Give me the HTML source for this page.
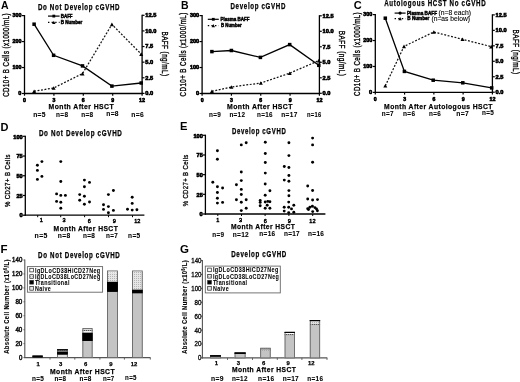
<!DOCTYPE html><html><head><meta charset="utf-8"><style>html,body{margin:0;padding:0;background:#fff;width:520px;height:382px;overflow:hidden}svg{display:block;filter:blur(0.3px)}text{font-family:"Liberation Sans",sans-serif}</style></head><body>
<svg width="520" height="382" viewBox="0 0 520 382">
<defs><pattern id="dots" width="2" height="2" patternUnits="userSpaceOnUse"><rect width="2" height="2" fill="#e6e6e6"/><rect width="1" height="1" fill="#b4b4b4"/></pattern><pattern id="dotsdk" width="2" height="2" patternUnits="userSpaceOnUse"><rect width="2" height="2" fill="#a8a8a8"/><rect width="1" height="1" fill="#555"/></pattern></defs>
<rect width="520" height="382" fill="#fff"/>
<text x="1" y="8.6" font-size="10.5" font-weight="bold" fill="#000">A</text>
<text x="37.9" y="9.7" font-size="8.2" font-weight="bold" fill="#000" stroke="#000" stroke-width="0.25" textLength="82.3" lengthAdjust="spacingAndGlyphs" letter-spacing="0.9">Do Not Develop cGVHD</text>
<line x1="24.50" y1="15.00" x2="24.50" y2="94.10" stroke="#000" stroke-width="1.3"/>
<line x1="21.90" y1="93.50" x2="24.50" y2="93.50" stroke="#000" stroke-width="1.2"/>
<text x="21.4" y="95.25" font-size="5.4" font-weight="bold" fill="#000" stroke="#000" stroke-width="0.6" text-anchor="end" textLength="3.1" lengthAdjust="spacingAndGlyphs">0</text>
<line x1="21.90" y1="67.53" x2="24.50" y2="67.53" stroke="#000" stroke-width="1.2"/>
<text x="21.4" y="69.28333333333333" font-size="5.4" font-weight="bold" fill="#000" stroke="#000" stroke-width="0.6" text-anchor="end" textLength="9.0" lengthAdjust="spacingAndGlyphs">100</text>
<line x1="21.90" y1="41.57" x2="24.50" y2="41.57" stroke="#000" stroke-width="1.2"/>
<text x="21.4" y="43.31666666666666" font-size="5.4" font-weight="bold" fill="#000" stroke="#000" stroke-width="0.6" text-anchor="end" textLength="9.0" lengthAdjust="spacingAndGlyphs">200</text>
<line x1="21.90" y1="15.60" x2="24.50" y2="15.60" stroke="#000" stroke-width="1.2"/>
<text x="21.4" y="17.349999999999994" font-size="5.4" font-weight="bold" fill="#000" stroke="#000" stroke-width="0.6" text-anchor="end" textLength="9.0" lengthAdjust="spacingAndGlyphs">300</text>
<line x1="142.10" y1="14.70" x2="142.10" y2="94.00" stroke="#000" stroke-width="1.3"/>
<line x1="142.10" y1="93.40" x2="144.50" y2="93.40" stroke="#000" stroke-width="1.2"/>
<text x="145.29999999999998" y="95.25" font-size="5.4" font-weight="bold" fill="#000" stroke="#000" stroke-width="0.6" textLength="7.9" lengthAdjust="spacingAndGlyphs">0.0</text>
<line x1="142.10" y1="77.78" x2="144.50" y2="77.78" stroke="#000" stroke-width="1.2"/>
<text x="145.29999999999998" y="79.63" font-size="5.4" font-weight="bold" fill="#000" stroke="#000" stroke-width="0.6" textLength="7.9" lengthAdjust="spacingAndGlyphs">2.5</text>
<line x1="142.10" y1="62.16" x2="144.50" y2="62.16" stroke="#000" stroke-width="1.2"/>
<text x="145.29999999999998" y="64.00999999999999" font-size="5.4" font-weight="bold" fill="#000" stroke="#000" stroke-width="0.6" textLength="7.9" lengthAdjust="spacingAndGlyphs">5.0</text>
<line x1="142.10" y1="46.54" x2="144.50" y2="46.54" stroke="#000" stroke-width="1.2"/>
<text x="145.29999999999998" y="48.39" font-size="5.4" font-weight="bold" fill="#000" stroke="#000" stroke-width="0.6" textLength="7.9" lengthAdjust="spacingAndGlyphs">7.5</text>
<line x1="142.10" y1="30.92" x2="144.50" y2="30.92" stroke="#000" stroke-width="1.2"/>
<text x="145.29999999999998" y="32.769999999999996" font-size="5.4" font-weight="bold" fill="#000" stroke="#000" stroke-width="0.6" textLength="11.0" lengthAdjust="spacingAndGlyphs">10.0</text>
<line x1="142.10" y1="15.30" x2="144.50" y2="15.30" stroke="#000" stroke-width="1.2"/>
<text x="145.29999999999998" y="17.15" font-size="5.4" font-weight="bold" fill="#000" stroke="#000" stroke-width="0.6" textLength="11.0" lengthAdjust="spacingAndGlyphs">12.5</text>
<line x1="23.90" y1="93.50" x2="142.70" y2="93.50" stroke="#000" stroke-width="1.3"/>
<line x1="24.50" y1="93.50" x2="24.50" y2="95.70" stroke="#000" stroke-width="1.2"/>
<text x="24.5" y="102.0" font-size="5.3" font-weight="bold" fill="#000" stroke="#000" stroke-width="0.6" text-anchor="middle" textLength="2.9" lengthAdjust="spacingAndGlyphs">0</text>
<line x1="53.90" y1="93.50" x2="53.90" y2="95.70" stroke="#000" stroke-width="1.2"/>
<text x="53.9" y="102.0" font-size="5.3" font-weight="bold" fill="#000" stroke="#000" stroke-width="0.6" text-anchor="middle" textLength="2.9" lengthAdjust="spacingAndGlyphs">3</text>
<line x1="83.30" y1="93.50" x2="83.30" y2="95.70" stroke="#000" stroke-width="1.2"/>
<text x="83.3" y="102.0" font-size="5.3" font-weight="bold" fill="#000" stroke="#000" stroke-width="0.6" text-anchor="middle" textLength="2.9" lengthAdjust="spacingAndGlyphs">6</text>
<line x1="112.70" y1="93.50" x2="112.70" y2="95.70" stroke="#000" stroke-width="1.2"/>
<text x="112.69999999999999" y="102.0" font-size="5.3" font-weight="bold" fill="#000" stroke="#000" stroke-width="0.6" text-anchor="middle" textLength="2.9" lengthAdjust="spacingAndGlyphs">9</text>
<line x1="142.10" y1="93.50" x2="142.10" y2="95.70" stroke="#000" stroke-width="1.2"/>
<text x="142.1" y="102.0" font-size="5.3" font-weight="bold" fill="#000" stroke="#000" stroke-width="0.6" text-anchor="middle" textLength="6.0" lengthAdjust="spacingAndGlyphs">12</text>
<text transform="translate(9.2,54.9) rotate(-90)" font-size="8.8" font-weight="normal" fill="#000" stroke="#000" stroke-width="0.35" text-anchor="middle" textLength="83.80000000000001" lengthAdjust="spacingAndGlyphs" letter-spacing="0.6">CD10+ B Cells (x1000/mL)</text>
<text transform="translate(161.7,54.0) rotate(90)" font-size="8.6" font-weight="normal" fill="#000" stroke="#000" stroke-width="0.35" text-anchor="middle" textLength="45.0" lengthAdjust="spacingAndGlyphs" letter-spacing="0.6">BAFF (ng/mL)</text>
<text x="48.6" y="108.8" font-size="7.9" font-weight="bold" fill="#000" stroke="#000" stroke-width="0.25" textLength="65.4" lengthAdjust="spacingAndGlyphs" letter-spacing="0.5">Month After HSCT</text>
<text x="33.2" y="116.5" font-size="8.0" font-weight="bold" fill="#000" stroke="#000" stroke-width="0.1" textLength="12.700000000000001" lengthAdjust="spacingAndGlyphs" letter-spacing="0.4">n=5</text>
<text x="56.1" y="116.5" font-size="8.0" font-weight="bold" fill="#000" stroke="#000" stroke-width="0.1" textLength="12.200000000000001" lengthAdjust="spacingAndGlyphs" letter-spacing="0.4">n=8</text>
<text x="81.3" y="116.5" font-size="8.0" font-weight="bold" fill="#000" stroke="#000" stroke-width="0.1" textLength="12.200000000000001" lengthAdjust="spacingAndGlyphs" letter-spacing="0.4">n=8</text>
<text x="106.3" y="115.5" font-size="8.0" font-weight="bold" fill="#000" stroke="#000" stroke-width="0.1" textLength="12.600000000000001" lengthAdjust="spacingAndGlyphs" letter-spacing="0.4">n=8</text>
<text x="131.3" y="116.5" font-size="8.0" font-weight="bold" fill="#000" stroke="#000" stroke-width="0.1" textLength="12.700000000000001" lengthAdjust="spacingAndGlyphs" letter-spacing="0.4">n=6</text>
<line x1="48.00" y1="16.10" x2="59.60" y2="16.10" stroke="#000" stroke-width="1.2"/>
<rect x="52.40" y="14.70" width="2.8" height="2.8" fill="#000"/>
<line x1="48.00" y1="22.40" x2="59.60" y2="22.40" stroke="#000" stroke-width="1.2" stroke-dasharray="1.4,2.2"/>
<polygon points="52.10,23.93 55.50,23.93 53.80,20.87" fill="#000"/>
<text x="60.7" y="17.8" font-size="4.8" font-weight="bold" fill="#000" stroke="#000" stroke-width="0.45" textLength="11.9" lengthAdjust="spacingAndGlyphs">BAFF</text>
<text x="60.7" y="24.1" font-size="4.8" font-weight="bold" fill="#000" stroke="#000" stroke-width="0.45" textLength="21.6" lengthAdjust="spacingAndGlyphs">B Number</text>
<polyline points="34.1,24.2 53.6,55.3 82.5,65.9 111.9,86.1 141.2,83.0" fill="none" stroke="#000" stroke-width="1.3"/>
<rect x="32.35" y="22.45" width="3.5" height="3.5" fill="#000"/>
<rect x="51.85" y="53.55" width="3.5" height="3.5" fill="#000"/>
<rect x="80.75" y="64.15" width="3.5" height="3.5" fill="#000"/>
<rect x="110.15" y="84.35" width="3.5" height="3.5" fill="#000"/>
<rect x="139.45" y="81.25" width="3.5" height="3.5" fill="#000"/>
<polyline points="34.1,91.3 53.6,88.0 82.5,73.6 111.9,24.4 141.2,54.1" fill="none" stroke="#111" stroke-width="1.25" stroke-dasharray="1.9,1.6"/>
<polygon points="32.10,93.10 36.10,93.10 34.10,89.50" fill="#000"/>
<polygon points="51.60,89.80 55.60,89.80 53.60,86.20" fill="#000"/>
<polygon points="80.50,75.40 84.50,75.40 82.50,71.80" fill="#000"/>
<polygon points="109.90,26.20 113.90,26.20 111.90,22.60" fill="#000"/>
<polygon points="139.20,55.90 143.20,55.90 141.20,52.30" fill="#000"/>
<text x="180.9" y="8.6" font-size="10.5" font-weight="bold" fill="#000">B</text>
<text x="230.5" y="8.8" font-size="8.2" font-weight="bold" fill="#000" stroke="#000" stroke-width="0.25" textLength="55.6" lengthAdjust="spacingAndGlyphs" letter-spacing="0.9">Develop cGVHD</text>
<line x1="202.10" y1="15.00" x2="202.10" y2="94.10" stroke="#000" stroke-width="1.3"/>
<line x1="199.50" y1="93.50" x2="202.10" y2="93.50" stroke="#000" stroke-width="1.2"/>
<text x="199.0" y="95.25" font-size="5.4" font-weight="bold" fill="#000" stroke="#000" stroke-width="0.6" text-anchor="end" textLength="3.1" lengthAdjust="spacingAndGlyphs">0</text>
<line x1="199.50" y1="67.53" x2="202.10" y2="67.53" stroke="#000" stroke-width="1.2"/>
<text x="199.0" y="69.28333333333333" font-size="5.4" font-weight="bold" fill="#000" stroke="#000" stroke-width="0.6" text-anchor="end" textLength="9.0" lengthAdjust="spacingAndGlyphs">100</text>
<line x1="199.50" y1="41.57" x2="202.10" y2="41.57" stroke="#000" stroke-width="1.2"/>
<text x="199.0" y="43.31666666666666" font-size="5.4" font-weight="bold" fill="#000" stroke="#000" stroke-width="0.6" text-anchor="end" textLength="9.0" lengthAdjust="spacingAndGlyphs">200</text>
<line x1="199.50" y1="15.60" x2="202.10" y2="15.60" stroke="#000" stroke-width="1.2"/>
<text x="199.0" y="17.349999999999994" font-size="5.4" font-weight="bold" fill="#000" stroke="#000" stroke-width="0.6" text-anchor="end" textLength="9.0" lengthAdjust="spacingAndGlyphs">300</text>
<line x1="319.40" y1="15.20" x2="319.40" y2="93.90" stroke="#000" stroke-width="1.3"/>
<line x1="319.40" y1="93.30" x2="321.80" y2="93.30" stroke="#000" stroke-width="1.2"/>
<text x="322.59999999999997" y="95.14999999999999" font-size="5.4" font-weight="bold" fill="#000" stroke="#000" stroke-width="0.6" textLength="7.9" lengthAdjust="spacingAndGlyphs">0.0</text>
<line x1="319.40" y1="77.80" x2="321.80" y2="77.80" stroke="#000" stroke-width="1.2"/>
<text x="322.59999999999997" y="79.64999999999999" font-size="5.4" font-weight="bold" fill="#000" stroke="#000" stroke-width="0.6" textLength="7.9" lengthAdjust="spacingAndGlyphs">2.5</text>
<line x1="319.40" y1="62.30" x2="321.80" y2="62.30" stroke="#000" stroke-width="1.2"/>
<text x="322.59999999999997" y="64.14999999999999" font-size="5.4" font-weight="bold" fill="#000" stroke="#000" stroke-width="0.6" textLength="7.9" lengthAdjust="spacingAndGlyphs">5.0</text>
<line x1="319.40" y1="46.80" x2="321.80" y2="46.80" stroke="#000" stroke-width="1.2"/>
<text x="322.59999999999997" y="48.65" font-size="5.4" font-weight="bold" fill="#000" stroke="#000" stroke-width="0.6" textLength="7.9" lengthAdjust="spacingAndGlyphs">7.5</text>
<line x1="319.40" y1="31.30" x2="321.80" y2="31.30" stroke="#000" stroke-width="1.2"/>
<text x="322.59999999999997" y="33.15" font-size="5.4" font-weight="bold" fill="#000" stroke="#000" stroke-width="0.6" textLength="11.0" lengthAdjust="spacingAndGlyphs">10.0</text>
<line x1="319.40" y1="15.80" x2="321.80" y2="15.80" stroke="#000" stroke-width="1.2"/>
<text x="322.59999999999997" y="17.65" font-size="5.4" font-weight="bold" fill="#000" stroke="#000" stroke-width="0.6" textLength="11.0" lengthAdjust="spacingAndGlyphs">12.5</text>
<line x1="201.50" y1="93.50" x2="320.00" y2="93.50" stroke="#000" stroke-width="1.3"/>
<line x1="202.10" y1="93.50" x2="202.10" y2="95.70" stroke="#000" stroke-width="1.2"/>
<text x="202.1" y="102.0" font-size="5.3" font-weight="bold" fill="#000" stroke="#000" stroke-width="0.6" text-anchor="middle" textLength="2.9" lengthAdjust="spacingAndGlyphs">0</text>
<line x1="231.42" y1="93.50" x2="231.42" y2="95.70" stroke="#000" stroke-width="1.2"/>
<text x="231.42499999999998" y="102.0" font-size="5.3" font-weight="bold" fill="#000" stroke="#000" stroke-width="0.6" text-anchor="middle" textLength="2.9" lengthAdjust="spacingAndGlyphs">3</text>
<line x1="260.75" y1="93.50" x2="260.75" y2="95.70" stroke="#000" stroke-width="1.2"/>
<text x="260.75" y="102.0" font-size="5.3" font-weight="bold" fill="#000" stroke="#000" stroke-width="0.6" text-anchor="middle" textLength="2.9" lengthAdjust="spacingAndGlyphs">6</text>
<line x1="290.07" y1="93.50" x2="290.07" y2="95.70" stroke="#000" stroke-width="1.2"/>
<text x="290.075" y="102.0" font-size="5.3" font-weight="bold" fill="#000" stroke="#000" stroke-width="0.6" text-anchor="middle" textLength="2.9" lengthAdjust="spacingAndGlyphs">9</text>
<line x1="319.40" y1="93.50" x2="319.40" y2="95.70" stroke="#000" stroke-width="1.2"/>
<text x="319.4" y="102.0" font-size="5.3" font-weight="bold" fill="#000" stroke="#000" stroke-width="0.6" text-anchor="middle" textLength="6.0" lengthAdjust="spacingAndGlyphs">12</text>
<text transform="translate(186.0,54.35) rotate(-90)" font-size="8.8" font-weight="normal" fill="#000" stroke="#000" stroke-width="0.35" text-anchor="middle" textLength="84.10000000000001" lengthAdjust="spacingAndGlyphs" letter-spacing="0.6">CD10+ B Cells (x1000/mL)</text>
<text transform="translate(339.2,53.6) rotate(90)" font-size="8.6" font-weight="normal" fill="#000" stroke="#000" stroke-width="0.35" text-anchor="middle" textLength="45.6" lengthAdjust="spacingAndGlyphs" letter-spacing="0.6">BAFF (ng/mL)</text>
<text x="227.1" y="108.7" font-size="7.9" font-weight="bold" fill="#000" stroke="#000" stroke-width="0.25" textLength="65.80000000000001" lengthAdjust="spacingAndGlyphs" letter-spacing="0.5">Month After HSCT</text>
<text x="209.0" y="117.1" font-size="8.0" font-weight="bold" fill="#000" stroke="#000" stroke-width="0.1" textLength="12.100000000000001" lengthAdjust="spacingAndGlyphs" letter-spacing="0.4">n=9</text>
<text x="229.4" y="117.1" font-size="8.0" font-weight="bold" fill="#000" stroke="#000" stroke-width="0.1" textLength="15.9" lengthAdjust="spacingAndGlyphs" letter-spacing="0.4">n=12</text>
<text x="257.0" y="117.1" font-size="8.0" font-weight="bold" fill="#000" stroke="#000" stroke-width="0.1" textLength="15.8" lengthAdjust="spacingAndGlyphs" letter-spacing="0.4">n=16</text>
<text x="281.3" y="117.1" font-size="8.0" font-weight="bold" fill="#000" stroke="#000" stroke-width="0.1" textLength="16.3" lengthAdjust="spacingAndGlyphs" letter-spacing="0.4">n=17</text>
<text x="307.0" y="117.1" font-size="8.0" font-weight="bold" fill="#000" stroke="#000" stroke-width="0.1" textLength="14.600000000000001" lengthAdjust="spacingAndGlyphs" letter-spacing="0.4">n=16</text>
<line x1="207.80" y1="19.30" x2="218.80" y2="19.30" stroke="#000" stroke-width="1.2"/>
<rect x="211.90" y="17.90" width="2.8" height="2.8" fill="#000"/>
<line x1="207.80" y1="25.60" x2="218.80" y2="25.60" stroke="#000" stroke-width="1.2" stroke-dasharray="1.4,2.2"/>
<polygon points="211.60,27.13 215.00,27.13 213.30,24.07" fill="#000"/>
<text x="220.5" y="21.0" font-size="4.8" font-weight="bold" fill="#000" stroke="#000" stroke-width="0.45" textLength="29.1" lengthAdjust="spacingAndGlyphs">Plasma BAFF</text>
<text x="221.0" y="27.3" font-size="4.8" font-weight="bold" fill="#000" stroke="#000" stroke-width="0.45" textLength="20.6" lengthAdjust="spacingAndGlyphs">B Number</text>
<polyline points="211.9,51.6 231.4,50.5 260.4,57.4 289.7,44.6 318.8,65.3" fill="none" stroke="#000" stroke-width="1.3"/>
<rect x="210.15" y="49.85" width="3.5" height="3.5" fill="#000"/>
<rect x="229.65" y="48.75" width="3.5" height="3.5" fill="#000"/>
<rect x="258.65" y="55.65" width="3.5" height="3.5" fill="#000"/>
<rect x="287.95" y="42.85" width="3.5" height="3.5" fill="#000"/>
<rect x="317.05" y="63.55" width="3.5" height="3.5" fill="#000"/>
<polyline points="211.9,91.3 231.4,87.0 260.8,83.0 289.7,73.2 318.8,60.6" fill="none" stroke="#111" stroke-width="1.25" stroke-dasharray="1.9,1.6"/>
<polygon points="209.90,93.10 213.90,93.10 211.90,89.50" fill="#000"/>
<polygon points="229.40,88.80 233.40,88.80 231.40,85.20" fill="#000"/>
<polygon points="258.80,84.80 262.80,84.80 260.80,81.20" fill="#000"/>
<polygon points="287.70,75.00 291.70,75.00 289.70,71.40" fill="#000"/>
<polygon points="316.80,62.40 320.80,62.40 318.80,58.80" fill="#000"/>
<text x="353.8" y="9.0" font-size="11.0" font-weight="bold" fill="#000">C</text>
<text x="384.2" y="6.3" font-size="8.2" font-weight="bold" fill="#000" stroke="#000" stroke-width="0.25" textLength="102.10000000000001" lengthAdjust="spacingAndGlyphs" letter-spacing="0.9">Autologous HCST No cGVHD</text>
<line x1="375.30" y1="14.00" x2="375.30" y2="93.00" stroke="#000" stroke-width="1.3"/>
<line x1="372.70" y1="92.40" x2="375.30" y2="92.40" stroke="#000" stroke-width="1.2"/>
<text x="372.2" y="94.15" font-size="5.4" font-weight="bold" fill="#000" stroke="#000" stroke-width="0.6" text-anchor="end" textLength="3.1" lengthAdjust="spacingAndGlyphs">0</text>
<line x1="372.70" y1="66.47" x2="375.30" y2="66.47" stroke="#000" stroke-width="1.2"/>
<text x="372.2" y="68.21666666666667" font-size="5.4" font-weight="bold" fill="#000" stroke="#000" stroke-width="0.6" text-anchor="end" textLength="9.0" lengthAdjust="spacingAndGlyphs">100</text>
<line x1="372.70" y1="40.53" x2="375.30" y2="40.53" stroke="#000" stroke-width="1.2"/>
<text x="372.2" y="42.28333333333333" font-size="5.4" font-weight="bold" fill="#000" stroke="#000" stroke-width="0.6" text-anchor="end" textLength="9.0" lengthAdjust="spacingAndGlyphs">200</text>
<line x1="372.70" y1="14.60" x2="375.30" y2="14.60" stroke="#000" stroke-width="1.2"/>
<text x="372.2" y="16.349999999999994" font-size="5.4" font-weight="bold" fill="#000" stroke="#000" stroke-width="0.6" text-anchor="end" textLength="9.0" lengthAdjust="spacingAndGlyphs">300</text>
<line x1="492.40" y1="14.30" x2="492.40" y2="92.80" stroke="#000" stroke-width="1.3"/>
<line x1="492.40" y1="92.20" x2="494.80" y2="92.20" stroke="#000" stroke-width="1.2"/>
<text x="495.59999999999997" y="94.05" font-size="5.4" font-weight="bold" fill="#000" stroke="#000" stroke-width="0.6" textLength="7.9" lengthAdjust="spacingAndGlyphs">0.0</text>
<line x1="492.40" y1="76.74" x2="494.80" y2="76.74" stroke="#000" stroke-width="1.2"/>
<text x="495.59999999999997" y="78.59" font-size="5.4" font-weight="bold" fill="#000" stroke="#000" stroke-width="0.6" textLength="7.9" lengthAdjust="spacingAndGlyphs">2.5</text>
<line x1="492.40" y1="61.28" x2="494.80" y2="61.28" stroke="#000" stroke-width="1.2"/>
<text x="495.59999999999997" y="63.13" font-size="5.4" font-weight="bold" fill="#000" stroke="#000" stroke-width="0.6" textLength="7.9" lengthAdjust="spacingAndGlyphs">5.0</text>
<line x1="492.40" y1="45.82" x2="494.80" y2="45.82" stroke="#000" stroke-width="1.2"/>
<text x="495.59999999999997" y="47.67000000000001" font-size="5.4" font-weight="bold" fill="#000" stroke="#000" stroke-width="0.6" textLength="7.9" lengthAdjust="spacingAndGlyphs">7.5</text>
<line x1="492.40" y1="30.36" x2="494.80" y2="30.36" stroke="#000" stroke-width="1.2"/>
<text x="495.59999999999997" y="32.21" font-size="5.4" font-weight="bold" fill="#000" stroke="#000" stroke-width="0.6" textLength="11.0" lengthAdjust="spacingAndGlyphs">10.0</text>
<line x1="492.40" y1="14.90" x2="494.80" y2="14.90" stroke="#000" stroke-width="1.2"/>
<text x="495.59999999999997" y="16.750000000000007" font-size="5.4" font-weight="bold" fill="#000" stroke="#000" stroke-width="0.6" textLength="11.0" lengthAdjust="spacingAndGlyphs">12.5</text>
<line x1="374.70" y1="92.40" x2="493.00" y2="92.40" stroke="#000" stroke-width="1.3"/>
<line x1="375.30" y1="92.40" x2="375.30" y2="94.60" stroke="#000" stroke-width="1.2"/>
<text x="375.3" y="101.1" font-size="5.3" font-weight="bold" fill="#000" stroke="#000" stroke-width="0.6" text-anchor="middle" textLength="2.9" lengthAdjust="spacingAndGlyphs">0</text>
<line x1="404.57" y1="92.40" x2="404.57" y2="94.60" stroke="#000" stroke-width="1.2"/>
<text x="404.575" y="101.1" font-size="5.3" font-weight="bold" fill="#000" stroke="#000" stroke-width="0.6" text-anchor="middle" textLength="2.9" lengthAdjust="spacingAndGlyphs">3</text>
<line x1="433.85" y1="92.40" x2="433.85" y2="94.60" stroke="#000" stroke-width="1.2"/>
<text x="433.85" y="101.1" font-size="5.3" font-weight="bold" fill="#000" stroke="#000" stroke-width="0.6" text-anchor="middle" textLength="2.9" lengthAdjust="spacingAndGlyphs">6</text>
<line x1="463.12" y1="92.40" x2="463.12" y2="94.60" stroke="#000" stroke-width="1.2"/>
<text x="463.125" y="101.1" font-size="5.3" font-weight="bold" fill="#000" stroke="#000" stroke-width="0.6" text-anchor="middle" textLength="2.9" lengthAdjust="spacingAndGlyphs">9</text>
<line x1="492.40" y1="92.40" x2="492.40" y2="94.60" stroke="#000" stroke-width="1.2"/>
<text x="492.4" y="101.1" font-size="5.3" font-weight="bold" fill="#000" stroke="#000" stroke-width="0.6" text-anchor="middle" textLength="6.0" lengthAdjust="spacingAndGlyphs">12</text>
<text transform="translate(359.7,53.95) rotate(-90)" font-size="8.8" font-weight="normal" fill="#000" stroke="#000" stroke-width="0.35" text-anchor="middle" textLength="84.10000000000001" lengthAdjust="spacingAndGlyphs" letter-spacing="0.6">CD10+ B Cells (x1000/mL)</text>
<text transform="translate(512.5,52.05) rotate(90)" font-size="8.6" font-weight="normal" fill="#000" stroke="#000" stroke-width="0.35" text-anchor="middle" textLength="44.9" lengthAdjust="spacingAndGlyphs" letter-spacing="0.6">BAFF (ng/mL)</text>
<text x="384.1" y="108.8" font-size="7.9" font-weight="bold" fill="#000" stroke="#000" stroke-width="0.25" textLength="108.80000000000001" lengthAdjust="spacingAndGlyphs" letter-spacing="0.5">Month After Autologous HSCT</text>
<text x="381.8" y="115.89999999999999" font-size="8.0" font-weight="bold" fill="#000" stroke="#000" stroke-width="0.1" textLength="12.100000000000001" lengthAdjust="spacingAndGlyphs" letter-spacing="0.4">n=7</text>
<text x="403.0" y="115.89999999999999" font-size="8.0" font-weight="bold" fill="#000" stroke="#000" stroke-width="0.1" textLength="12.4" lengthAdjust="spacingAndGlyphs" letter-spacing="0.4">n=6</text>
<text x="429.0" y="115.89999999999999" font-size="8.0" font-weight="bold" fill="#000" stroke="#000" stroke-width="0.1" textLength="12.0" lengthAdjust="spacingAndGlyphs" letter-spacing="0.4">n=6</text>
<text x="456.3" y="115.89999999999999" font-size="8.0" font-weight="bold" fill="#000" stroke="#000" stroke-width="0.1" textLength="12.8" lengthAdjust="spacingAndGlyphs" letter-spacing="0.4">n=7</text>
<text x="482.0" y="115.2" font-size="8.0" font-weight="bold" fill="#000" stroke="#000" stroke-width="0.1" textLength="12.100000000000001" lengthAdjust="spacingAndGlyphs" letter-spacing="0.4">n=5</text>
<line x1="394.60" y1="13.10" x2="405.60" y2="13.10" stroke="#000" stroke-width="1.2"/>
<circle cx="400.10" cy="13.10" r="1.6" fill="#000"/>
<line x1="394.60" y1="18.60" x2="405.60" y2="18.60" stroke="#000" stroke-width="1.2" stroke-dasharray="1.4,2.2"/>
<polygon points="398.40,20.13 401.80,20.13 400.10,17.07" fill="#000"/>
<text x="407.0" y="14.7" font-size="4.8" font-weight="bold" fill="#000" stroke="#000" stroke-width="0.45" textLength="30" lengthAdjust="spacingAndGlyphs">Plasma BAFF</text>
<text x="438.4" y="15.1" font-size="6.8" font-weight="normal" fill="#000" stroke="#000" stroke-width="0.1" textLength="32.6" lengthAdjust="spacingAndGlyphs">(n=8 each)</text>
<text x="407.3" y="20.2" font-size="4.8" font-weight="bold" fill="#000" stroke="#000" stroke-width="0.45" textLength="22" lengthAdjust="spacingAndGlyphs">B Number</text>
<text x="431.5" y="20.6" font-size="6.8" font-weight="normal" fill="#000" stroke="#000" stroke-width="0.1" textLength="38.5" lengthAdjust="spacingAndGlyphs">(n=as below)</text>
<polyline points="385.3,18.2 404.4,71.4 433.2,80.2 462.8,82.8 491.7,87.9" fill="none" stroke="#000" stroke-width="1.3"/>
<rect x="383.55" y="16.45" width="3.5" height="3.5" fill="#000"/>
<rect x="402.65" y="69.65" width="3.5" height="3.5" fill="#000"/>
<rect x="431.45" y="78.45" width="3.5" height="3.5" fill="#000"/>
<rect x="461.05" y="81.05" width="3.5" height="3.5" fill="#000"/>
<rect x="489.95" y="86.15" width="3.5" height="3.5" fill="#000"/>
<polyline points="385.3,85.8 404.0,46.4 433.8,32.0 462.5,39.3 491.2,46.6" fill="none" stroke="#111" stroke-width="1.25" stroke-dasharray="1.9,1.6"/>
<polygon points="383.30,87.60 387.30,87.60 385.30,84.00" fill="#000"/>
<polygon points="402.00,48.20 406.00,48.20 404.00,44.60" fill="#000"/>
<polygon points="431.80,33.80 435.80,33.80 433.80,30.20" fill="#000"/>
<polygon points="460.50,41.10 464.50,41.10 462.50,37.50" fill="#000"/>
<polygon points="489.20,48.40 493.20,48.40 491.20,44.80" fill="#000"/>
<text x="0.6" y="130.6" font-size="11.0" font-weight="bold" fill="#000">D</text>
<text x="38.9" y="136.4" font-size="8.2" font-weight="bold" fill="#000" stroke="#000" stroke-width="0.25" textLength="83.7" lengthAdjust="spacingAndGlyphs" letter-spacing="0.9">Do Not Develop cGVHD</text>
<line x1="25.30" y1="135.70" x2="25.30" y2="215.80" stroke="#000" stroke-width="1.3"/>
<line x1="22.90" y1="215.20" x2="25.30" y2="215.20" stroke="#000" stroke-width="1.2"/>
<text x="22.7" y="217.39999999999998" font-size="5.5" font-weight="bold" fill="#000" stroke="#000" stroke-width="0.6" text-anchor="end" textLength="3.2" lengthAdjust="spacingAndGlyphs">0</text>
<line x1="22.90" y1="195.47" x2="25.30" y2="195.47" stroke="#000" stroke-width="1.2"/>
<text x="22.7" y="197.67499999999998" font-size="5.5" font-weight="bold" fill="#000" stroke="#000" stroke-width="0.6" text-anchor="end" textLength="6.2" lengthAdjust="spacingAndGlyphs">25</text>
<line x1="22.90" y1="175.75" x2="25.30" y2="175.75" stroke="#000" stroke-width="1.2"/>
<text x="22.7" y="177.95" font-size="5.5" font-weight="bold" fill="#000" stroke="#000" stroke-width="0.6" text-anchor="end" textLength="6.2" lengthAdjust="spacingAndGlyphs">50</text>
<line x1="22.90" y1="156.03" x2="25.30" y2="156.03" stroke="#000" stroke-width="1.2"/>
<text x="22.7" y="158.225" font-size="5.5" font-weight="bold" fill="#000" stroke="#000" stroke-width="0.6" text-anchor="end" textLength="6.2" lengthAdjust="spacingAndGlyphs">75</text>
<line x1="22.90" y1="136.30" x2="25.30" y2="136.30" stroke="#000" stroke-width="1.2"/>
<text x="22.7" y="138.5" font-size="5.5" font-weight="bold" fill="#000" stroke="#000" stroke-width="0.6" text-anchor="end" textLength="9.4" lengthAdjust="spacingAndGlyphs">100</text>
<line x1="24.70" y1="215.20" x2="144.40" y2="215.20" stroke="#000" stroke-width="1.3"/>
<line x1="37.70" y1="215.20" x2="37.70" y2="217.20" stroke="#000" stroke-width="1.0"/>
<text x="41.4" y="222.0" font-size="5.6" font-weight="normal" fill="#000" stroke="#000" stroke-width="0.45" text-anchor="middle" textLength="3.1" lengthAdjust="spacingAndGlyphs">1</text>
<line x1="60.70" y1="215.20" x2="60.70" y2="217.20" stroke="#000" stroke-width="1.0"/>
<text x="64.0" y="222.0" font-size="5.6" font-weight="normal" fill="#000" stroke="#000" stroke-width="0.45" text-anchor="middle" textLength="3.1" lengthAdjust="spacingAndGlyphs">3</text>
<line x1="84.60" y1="215.20" x2="84.60" y2="217.20" stroke="#000" stroke-width="1.0"/>
<text x="89.3" y="222.7" font-size="5.6" font-weight="normal" fill="#000" stroke="#000" stroke-width="0.45" text-anchor="middle" textLength="3.1" lengthAdjust="spacingAndGlyphs">6</text>
<line x1="108.50" y1="215.20" x2="108.50" y2="217.20" stroke="#000" stroke-width="1.0"/>
<text x="114.2" y="222.7" font-size="5.6" font-weight="normal" fill="#000" stroke="#000" stroke-width="0.45" text-anchor="middle" textLength="3.1" lengthAdjust="spacingAndGlyphs">9</text>
<line x1="132.50" y1="215.20" x2="132.50" y2="217.20" stroke="#000" stroke-width="1.0"/>
<text x="137.3" y="222.7" font-size="5.6" font-weight="normal" fill="#000" stroke="#000" stroke-width="0.45" text-anchor="middle" textLength="6.2" lengthAdjust="spacingAndGlyphs">12</text>
<text transform="translate(9.5,180.6) rotate(-90)" font-size="7.7" font-weight="normal" fill="#000" stroke="#000" stroke-width="0.3" text-anchor="middle" textLength="52.9" lengthAdjust="spacingAndGlyphs" letter-spacing="0.5">% CD27+ B Cells</text>
<text x="53.6" y="231.2" font-size="7.9" font-weight="bold" fill="#000" stroke="#000" stroke-width="0.25" textLength="64.60000000000001" lengthAdjust="spacingAndGlyphs" letter-spacing="0.5">Month After HSCT</text>
<text x="34.6" y="238.4" font-size="8.0" font-weight="bold" fill="#000" stroke="#000" stroke-width="0.1" textLength="13.100000000000001" lengthAdjust="spacingAndGlyphs" letter-spacing="0.4">n=5</text>
<text x="57.8" y="238.4" font-size="8.0" font-weight="bold" fill="#000" stroke="#000" stroke-width="0.1" textLength="12.700000000000001" lengthAdjust="spacingAndGlyphs" letter-spacing="0.4">n=8</text>
<text x="83.0" y="237.60000000000002" font-size="8.0" font-weight="bold" fill="#000" stroke="#000" stroke-width="0.1" textLength="12.200000000000001" lengthAdjust="spacingAndGlyphs" letter-spacing="0.4">n=8</text>
<text x="106.0" y="237.70000000000002" font-size="8.0" font-weight="bold" fill="#000" stroke="#000" stroke-width="0.1" textLength="12.100000000000001" lengthAdjust="spacingAndGlyphs" letter-spacing="0.4">n=7</text>
<text x="128.1" y="237.70000000000002" font-size="8.0" font-weight="bold" fill="#000" stroke="#000" stroke-width="0.1" textLength="12.4" lengthAdjust="spacingAndGlyphs" letter-spacing="0.4">n=5</text>
<circle cx="41.90" cy="161.60" r="1.45" fill="#000"/>
<circle cx="37.40" cy="165.30" r="1.45" fill="#000"/>
<circle cx="37.40" cy="170.40" r="1.45" fill="#000"/>
<circle cx="41.90" cy="176.40" r="1.45" fill="#000"/>
<circle cx="37.40" cy="179.40" r="1.45" fill="#000"/>
<circle cx="60.80" cy="161.60" r="1.45" fill="#000"/>
<circle cx="60.80" cy="181.50" r="1.45" fill="#000"/>
<circle cx="56.60" cy="193.90" r="1.45" fill="#000"/>
<circle cx="60.80" cy="195.40" r="1.45" fill="#000"/>
<circle cx="65.40" cy="195.40" r="1.45" fill="#000"/>
<circle cx="56.60" cy="201.40" r="1.45" fill="#000"/>
<circle cx="60.80" cy="202.20" r="1.45" fill="#000"/>
<circle cx="60.80" cy="208.20" r="1.45" fill="#000"/>
<circle cx="84.40" cy="180.10" r="1.45" fill="#000"/>
<circle cx="89.50" cy="182.40" r="1.45" fill="#000"/>
<circle cx="84.40" cy="186.80" r="1.45" fill="#000"/>
<circle cx="79.70" cy="194.60" r="1.45" fill="#000"/>
<circle cx="84.40" cy="196.20" r="1.45" fill="#000"/>
<circle cx="79.70" cy="200.30" r="1.45" fill="#000"/>
<circle cx="89.50" cy="202.00" r="1.45" fill="#000"/>
<circle cx="84.40" cy="204.30" r="1.45" fill="#000"/>
<circle cx="113.40" cy="190.50" r="1.45" fill="#000"/>
<circle cx="108.40" cy="194.60" r="1.45" fill="#000"/>
<circle cx="103.50" cy="204.70" r="1.45" fill="#000"/>
<circle cx="108.40" cy="206.60" r="1.45" fill="#000"/>
<circle cx="103.50" cy="209.40" r="1.45" fill="#000"/>
<circle cx="113.40" cy="210.40" r="1.45" fill="#000"/>
<circle cx="108.40" cy="212.80" r="1.45" fill="#000"/>
<circle cx="132.20" cy="197.20" r="1.45" fill="#000"/>
<circle cx="132.20" cy="203.40" r="1.45" fill="#000"/>
<circle cx="127.50" cy="209.30" r="1.45" fill="#000"/>
<circle cx="132.20" cy="210.10" r="1.45" fill="#000"/>
<circle cx="136.90" cy="209.70" r="1.45" fill="#000"/>
<text x="180.0" y="130.4" font-size="11.2" font-weight="bold" fill="#000">E</text>
<text x="232.0" y="133.8" font-size="8.2" font-weight="bold" fill="#000" stroke="#000" stroke-width="0.25" textLength="54.400000000000006" lengthAdjust="spacingAndGlyphs" letter-spacing="0.9">Develop cGVHD</text>
<line x1="205.40" y1="134.70" x2="205.40" y2="214.60" stroke="#000" stroke-width="1.3"/>
<line x1="203.00" y1="214.00" x2="205.40" y2="214.00" stroke="#000" stroke-width="1.2"/>
<text x="202.8" y="216.2" font-size="5.5" font-weight="bold" fill="#000" stroke="#000" stroke-width="0.6" text-anchor="end" textLength="3.2" lengthAdjust="spacingAndGlyphs">0</text>
<line x1="203.00" y1="194.32" x2="205.40" y2="194.32" stroke="#000" stroke-width="1.2"/>
<text x="202.8" y="196.52499999999998" font-size="5.5" font-weight="bold" fill="#000" stroke="#000" stroke-width="0.6" text-anchor="end" textLength="6.2" lengthAdjust="spacingAndGlyphs">25</text>
<line x1="203.00" y1="174.65" x2="205.40" y2="174.65" stroke="#000" stroke-width="1.2"/>
<text x="202.8" y="176.85" font-size="5.5" font-weight="bold" fill="#000" stroke="#000" stroke-width="0.6" text-anchor="end" textLength="6.2" lengthAdjust="spacingAndGlyphs">50</text>
<line x1="203.00" y1="154.98" x2="205.40" y2="154.98" stroke="#000" stroke-width="1.2"/>
<text x="202.8" y="157.175" font-size="5.5" font-weight="bold" fill="#000" stroke="#000" stroke-width="0.6" text-anchor="end" textLength="6.2" lengthAdjust="spacingAndGlyphs">75</text>
<line x1="203.00" y1="135.30" x2="205.40" y2="135.30" stroke="#000" stroke-width="1.2"/>
<text x="202.8" y="137.5" font-size="5.5" font-weight="bold" fill="#000" stroke="#000" stroke-width="0.6" text-anchor="end" textLength="9.4" lengthAdjust="spacingAndGlyphs">100</text>
<line x1="204.80" y1="214.00" x2="325.40" y2="214.00" stroke="#000" stroke-width="1.3"/>
<line x1="217.80" y1="214.00" x2="217.80" y2="216.00" stroke="#000" stroke-width="1.0"/>
<text x="217.7" y="221.7" font-size="5.6" font-weight="normal" fill="#000" stroke="#000" stroke-width="0.45" text-anchor="middle" textLength="3.1" lengthAdjust="spacingAndGlyphs">1</text>
<line x1="241.50" y1="214.00" x2="241.50" y2="216.00" stroke="#000" stroke-width="1.0"/>
<text x="240.6" y="221.7" font-size="5.6" font-weight="normal" fill="#000" stroke="#000" stroke-width="0.45" text-anchor="middle" textLength="3.1" lengthAdjust="spacingAndGlyphs">3</text>
<line x1="265.10" y1="214.00" x2="265.10" y2="216.00" stroke="#000" stroke-width="1.0"/>
<text x="265.4" y="222.6" font-size="5.6" font-weight="normal" fill="#000" stroke="#000" stroke-width="0.45" text-anchor="middle" textLength="3.1" lengthAdjust="spacingAndGlyphs">6</text>
<line x1="288.90" y1="214.00" x2="288.90" y2="216.00" stroke="#000" stroke-width="1.0"/>
<text x="289.3" y="222.6" font-size="5.6" font-weight="normal" fill="#000" stroke="#000" stroke-width="0.45" text-anchor="middle" textLength="3.1" lengthAdjust="spacingAndGlyphs">9</text>
<line x1="312.70" y1="214.00" x2="312.70" y2="216.00" stroke="#000" stroke-width="1.0"/>
<text x="312.4" y="222.6" font-size="5.6" font-weight="normal" fill="#000" stroke="#000" stroke-width="0.45" text-anchor="middle" textLength="6.2" lengthAdjust="spacingAndGlyphs">12</text>
<text transform="translate(188.0,180.3) rotate(-90)" font-size="7.7" font-weight="normal" fill="#000" stroke="#000" stroke-width="0.3" text-anchor="middle" textLength="52.099999999999994" lengthAdjust="spacingAndGlyphs" letter-spacing="0.5">% CD27+ B Cells</text>
<text x="231.0" y="228.9" font-size="7.9" font-weight="bold" fill="#000" stroke="#000" stroke-width="0.25" textLength="64.2" lengthAdjust="spacingAndGlyphs" letter-spacing="0.5">Month After HSCT</text>
<text x="212.2" y="236.9" font-size="8.0" font-weight="bold" fill="#000" stroke="#000" stroke-width="0.1" textLength="12.100000000000001" lengthAdjust="spacingAndGlyphs" letter-spacing="0.4">n=9</text>
<text x="232.7" y="236.9" font-size="8.0" font-weight="bold" fill="#000" stroke="#000" stroke-width="0.1" textLength="16.400000000000002" lengthAdjust="spacingAndGlyphs" letter-spacing="0.4">n=12</text>
<text x="259.3" y="236.20000000000002" font-size="8.0" font-weight="bold" fill="#000" stroke="#000" stroke-width="0.1" textLength="16.2" lengthAdjust="spacingAndGlyphs" letter-spacing="0.4">n=16</text>
<text x="283.9" y="236.20000000000002" font-size="8.0" font-weight="bold" fill="#000" stroke="#000" stroke-width="0.1" textLength="16.1" lengthAdjust="spacingAndGlyphs" letter-spacing="0.4">n=17</text>
<text x="308.1" y="236.20000000000002" font-size="8.0" font-weight="bold" fill="#000" stroke="#000" stroke-width="0.1" textLength="16.2" lengthAdjust="spacingAndGlyphs" letter-spacing="0.4">n=16</text>
<circle cx="217.40" cy="150.80" r="1.45" fill="#000"/>
<circle cx="217.40" cy="159.20" r="1.45" fill="#000"/>
<circle cx="212.80" cy="182.20" r="1.45" fill="#000"/>
<circle cx="217.40" cy="186.70" r="1.45" fill="#000"/>
<circle cx="222.60" cy="188.00" r="1.45" fill="#000"/>
<circle cx="217.40" cy="192.50" r="1.45" fill="#000"/>
<circle cx="217.40" cy="198.20" r="1.45" fill="#000"/>
<circle cx="217.40" cy="203.10" r="1.45" fill="#000"/>
<circle cx="222.60" cy="202.40" r="1.45" fill="#000"/>
<circle cx="241.30" cy="144.90" r="1.45" fill="#000"/>
<circle cx="246.20" cy="142.70" r="1.45" fill="#000"/>
<circle cx="241.30" cy="172.00" r="1.45" fill="#000"/>
<circle cx="241.30" cy="180.60" r="1.45" fill="#000"/>
<circle cx="236.40" cy="184.70" r="1.45" fill="#000"/>
<circle cx="241.30" cy="189.40" r="1.45" fill="#000"/>
<circle cx="241.30" cy="194.50" r="1.45" fill="#000"/>
<circle cx="236.40" cy="199.80" r="1.45" fill="#000"/>
<circle cx="246.20" cy="199.80" r="1.45" fill="#000"/>
<circle cx="241.30" cy="202.30" r="1.45" fill="#000"/>
<circle cx="246.20" cy="208.20" r="1.45" fill="#000"/>
<circle cx="241.30" cy="210.60" r="1.45" fill="#000"/>
<circle cx="265.30" cy="142.20" r="1.45" fill="#000"/>
<circle cx="265.30" cy="153.50" r="1.45" fill="#000"/>
<circle cx="265.30" cy="162.50" r="1.45" fill="#000"/>
<circle cx="265.30" cy="173.10" r="1.45" fill="#000"/>
<circle cx="265.20" cy="184.00" r="1.45" fill="#000"/>
<circle cx="269.90" cy="190.70" r="1.45" fill="#000"/>
<circle cx="265.20" cy="195.20" r="1.45" fill="#000"/>
<circle cx="260.20" cy="200.40" r="1.45" fill="#000"/>
<circle cx="260.20" cy="202.40" r="1.45" fill="#000"/>
<circle cx="265.20" cy="202.00" r="1.45" fill="#000"/>
<circle cx="269.90" cy="201.80" r="1.45" fill="#000"/>
<circle cx="260.20" cy="205.70" r="1.45" fill="#000"/>
<circle cx="267.20" cy="205.30" r="1.45" fill="#000"/>
<circle cx="265.20" cy="208.30" r="1.45" fill="#000"/>
<circle cx="269.90" cy="208.30" r="1.45" fill="#000"/>
<circle cx="267.80" cy="201.40" r="1.45" fill="#000"/>
<circle cx="288.90" cy="142.80" r="1.45" fill="#000"/>
<circle cx="288.90" cy="155.60" r="1.45" fill="#000"/>
<circle cx="284.30" cy="166.50" r="1.45" fill="#000"/>
<circle cx="288.90" cy="167.50" r="1.45" fill="#000"/>
<circle cx="288.90" cy="175.50" r="1.45" fill="#000"/>
<circle cx="284.30" cy="180.10" r="1.45" fill="#000"/>
<circle cx="288.90" cy="181.20" r="1.45" fill="#000"/>
<circle cx="288.90" cy="190.60" r="1.45" fill="#000"/>
<circle cx="288.90" cy="195.80" r="1.45" fill="#000"/>
<circle cx="288.70" cy="202.10" r="1.45" fill="#000"/>
<circle cx="284.20" cy="207.20" r="1.45" fill="#000"/>
<circle cx="293.80" cy="205.20" r="1.45" fill="#000"/>
<circle cx="284.20" cy="211.10" r="1.45" fill="#000"/>
<circle cx="288.70" cy="207.20" r="1.45" fill="#000"/>
<circle cx="293.80" cy="212.20" r="1.45" fill="#000"/>
<circle cx="288.70" cy="212.60" r="1.45" fill="#000"/>
<circle cx="291.50" cy="208.90" r="1.45" fill="#000"/>
<circle cx="312.60" cy="138.10" r="1.45" fill="#000"/>
<circle cx="312.60" cy="144.90" r="1.45" fill="#000"/>
<circle cx="312.60" cy="162.30" r="1.45" fill="#000"/>
<circle cx="307.70" cy="186.00" r="1.45" fill="#000"/>
<circle cx="312.60" cy="190.50" r="1.45" fill="#000"/>
<circle cx="307.70" cy="199.00" r="1.45" fill="#000"/>
<circle cx="312.60" cy="200.00" r="1.45" fill="#000"/>
<circle cx="317.50" cy="199.60" r="1.45" fill="#000"/>
<circle cx="307.70" cy="208.80" r="1.45" fill="#000"/>
<circle cx="309.90" cy="207.30" r="1.45" fill="#000"/>
<circle cx="312.40" cy="206.30" r="1.45" fill="#000"/>
<circle cx="314.90" cy="207.60" r="1.45" fill="#000"/>
<circle cx="317.40" cy="210.80" r="1.45" fill="#000"/>
<circle cx="312.70" cy="211.60" r="1.45" fill="#000"/>
<circle cx="308.50" cy="209.50" r="1.45" fill="#000"/>
<circle cx="316.50" cy="209.00" r="1.45" fill="#000"/>
<text x="0.6" y="252.8" font-size="11.5" font-weight="bold" fill="#000">F</text>
<text x="38.1" y="257.5" font-size="8.2" font-weight="bold" fill="#000" stroke="#000" stroke-width="0.25" textLength="82.4" lengthAdjust="spacingAndGlyphs" letter-spacing="0.9">Do Not Develop cGVHD</text>
<line x1="24.80" y1="259.50" x2="24.80" y2="358.10" stroke="#555" stroke-width="1.1"/>
<line x1="23.50" y1="357.60" x2="24.80" y2="357.60" stroke="#555" stroke-width="1.0"/>
<text x="22.3" y="360.0" font-size="6.9" font-weight="normal" fill="#111" stroke="#111" stroke-width="0.5" text-anchor="end" textLength="3.4" lengthAdjust="spacingAndGlyphs">0</text>
<line x1="23.50" y1="343.66" x2="24.80" y2="343.66" stroke="#555" stroke-width="1.0"/>
<text x="22.3" y="346.0571428571429" font-size="6.9" font-weight="normal" fill="#111" stroke="#111" stroke-width="0.5" text-anchor="end" textLength="6.9" lengthAdjust="spacingAndGlyphs">20</text>
<line x1="23.50" y1="329.71" x2="24.80" y2="329.71" stroke="#555" stroke-width="1.0"/>
<text x="22.3" y="332.1142857142857" font-size="6.9" font-weight="normal" fill="#111" stroke="#111" stroke-width="0.5" text-anchor="end" textLength="6.9" lengthAdjust="spacingAndGlyphs">40</text>
<line x1="23.50" y1="315.77" x2="24.80" y2="315.77" stroke="#555" stroke-width="1.0"/>
<text x="22.3" y="318.1714285714286" font-size="6.9" font-weight="normal" fill="#111" stroke="#111" stroke-width="0.5" text-anchor="end" textLength="6.9" lengthAdjust="spacingAndGlyphs">60</text>
<line x1="23.50" y1="301.83" x2="24.80" y2="301.83" stroke="#555" stroke-width="1.0"/>
<text x="22.3" y="304.2285714285714" font-size="6.9" font-weight="normal" fill="#111" stroke="#111" stroke-width="0.5" text-anchor="end" textLength="6.9" lengthAdjust="spacingAndGlyphs">80</text>
<line x1="23.50" y1="287.89" x2="24.80" y2="287.89" stroke="#555" stroke-width="1.0"/>
<text x="22.3" y="290.2857142857143" font-size="6.9" font-weight="normal" fill="#111" stroke="#111" stroke-width="0.5" text-anchor="end" textLength="10.2" lengthAdjust="spacingAndGlyphs">100</text>
<line x1="23.50" y1="273.94" x2="24.80" y2="273.94" stroke="#555" stroke-width="1.0"/>
<text x="22.3" y="276.34285714285716" font-size="6.9" font-weight="normal" fill="#111" stroke="#111" stroke-width="0.5" text-anchor="end" textLength="10.2" lengthAdjust="spacingAndGlyphs">120</text>
<line x1="23.50" y1="260.00" x2="24.80" y2="260.00" stroke="#555" stroke-width="1.0"/>
<text x="22.3" y="262.4" font-size="6.9" font-weight="normal" fill="#111" stroke="#111" stroke-width="0.5" text-anchor="end" textLength="10.2" lengthAdjust="spacingAndGlyphs">140</text>
<line x1="24.30" y1="357.60" x2="150.50" y2="357.60" stroke="#555" stroke-width="1.1"/>
<line x1="50.00" y1="357.60" x2="50.00" y2="359.60" stroke="#555" stroke-width="0.9"/>
<line x1="74.80" y1="357.60" x2="74.80" y2="359.60" stroke="#555" stroke-width="0.9"/>
<line x1="99.90" y1="357.60" x2="99.90" y2="359.60" stroke="#555" stroke-width="0.9"/>
<line x1="124.40" y1="357.60" x2="124.40" y2="359.60" stroke="#555" stroke-width="0.9"/>
<line x1="150.30" y1="357.60" x2="150.30" y2="359.60" stroke="#555" stroke-width="0.9"/>
<text x="38.1" y="365.6" font-size="5.9" font-weight="bold" fill="#000" stroke="#000" stroke-width="0.25" text-anchor="middle" textLength="3.3" lengthAdjust="spacingAndGlyphs">1</text>
<text x="60.6" y="365.6" font-size="5.9" font-weight="bold" fill="#000" stroke="#000" stroke-width="0.25" text-anchor="middle" textLength="3.3" lengthAdjust="spacingAndGlyphs">3</text>
<text x="85.7" y="365.6" font-size="5.9" font-weight="bold" fill="#000" stroke="#000" stroke-width="0.25" text-anchor="middle" textLength="3.3" lengthAdjust="spacingAndGlyphs">6</text>
<text x="111.0" y="365.6" font-size="5.9" font-weight="bold" fill="#000" stroke="#000" stroke-width="0.25" text-anchor="middle" textLength="3.3" lengthAdjust="spacingAndGlyphs">9</text>
<text x="133.9" y="365.6" font-size="5.9" font-weight="bold" fill="#000" stroke="#000" stroke-width="0.25" text-anchor="middle" textLength="6.5" lengthAdjust="spacingAndGlyphs">12</text>
<text transform="translate(9.4,306.5) rotate(-90)" font-size="7.3" font-weight="bold" fill="#000" stroke="#000" stroke-width="0.1" text-anchor="middle" textLength="94.6" lengthAdjust="spacingAndGlyphs" letter-spacing="0.45">Absolute Cell Number (x10<tspan font-size="4.6" dy="-2.4">6</tspan><tspan dy="2.4">/L)</tspan></text>
<text x="50.0" y="373.6" font-size="7.9" font-weight="bold" fill="#000" stroke="#000" stroke-width="0.25" textLength="65.0" lengthAdjust="spacingAndGlyphs" letter-spacing="0.5">Month After HSCT</text>
<text x="31.9" y="380.90000000000003" font-size="8.0" font-weight="bold" fill="#000" stroke="#000" stroke-width="0.1" textLength="12.200000000000001" lengthAdjust="spacingAndGlyphs" letter-spacing="0.4">n=5</text>
<text x="54.4" y="380.90000000000003" font-size="8.0" font-weight="bold" fill="#000" stroke="#000" stroke-width="0.1" textLength="11.9" lengthAdjust="spacingAndGlyphs" letter-spacing="0.4">n=8</text>
<text x="79.6" y="380.90000000000003" font-size="8.0" font-weight="bold" fill="#000" stroke="#000" stroke-width="0.1" textLength="12.100000000000001" lengthAdjust="spacingAndGlyphs" letter-spacing="0.4">n=8</text>
<text x="102.9" y="380.90000000000003" font-size="8.0" font-weight="bold" fill="#000" stroke="#000" stroke-width="0.1" textLength="11.700000000000001" lengthAdjust="spacingAndGlyphs" letter-spacing="0.4">n=7</text>
<text x="125.1" y="379.90000000000003" font-size="8.0" font-weight="bold" fill="#000" stroke="#000" stroke-width="0.1" textLength="11.700000000000001" lengthAdjust="spacingAndGlyphs" letter-spacing="0.4">n=5</text>
<rect x="32.50" y="355.60" width="10.20" height="2.00" fill="#000"/>
<rect x="32.95" y="356.05" width="9.30" height="1.55" fill="none" stroke="#666" stroke-width="0.9"/>
<rect x="32.50" y="355.60" width="10.20" height="2.00" fill="#000"/>
<rect x="57.10" y="349.20" width="10.70" height="1.20" fill="#000"/>
<rect x="57.10" y="350.40" width="10.70" height="1.40" fill="url(#dotsdk)"/>
<rect x="57.10" y="351.80" width="10.70" height="2.80" fill="#000"/>
<rect x="57.10" y="354.60" width="10.70" height="3.00" fill="#e6e6e6"/>
<rect x="57.55" y="349.65" width="9.80" height="7.95" fill="none" stroke="#666" stroke-width="0.9"/>
<rect x="57.10" y="349.20" width="10.70" height="1.20" fill="#000"/>
<rect x="57.10" y="351.80" width="10.70" height="2.80" fill="#000"/>
<rect x="82.40" y="328.10" width="10.20" height="1.50" fill="#fff"/>
<rect x="82.40" y="329.60" width="10.20" height="1.70" fill="url(#dotsdk)"/>
<rect x="82.40" y="331.30" width="10.20" height="1.50" fill="#fff"/>
<rect x="82.40" y="332.80" width="10.20" height="8.20" fill="#000"/>
<rect x="82.40" y="341.00" width="10.20" height="16.60" fill="#c4c4c4"/>
<rect x="82.85" y="328.55" width="9.30" height="29.05" fill="none" stroke="#666" stroke-width="0.9"/>
<rect x="82.40" y="332.80" width="10.20" height="8.20" fill="#000"/>
<rect x="107.00" y="270.50" width="10.90" height="1.90" fill="#fff"/>
<rect x="107.00" y="272.40" width="10.90" height="9.50" fill="url(#dots)"/>
<rect x="107.00" y="281.90" width="10.90" height="9.90" fill="#000"/>
<rect x="107.00" y="291.80" width="10.90" height="65.80" fill="#c4c4c4"/>
<rect x="107.45" y="270.95" width="10.00" height="86.65" fill="none" stroke="#666" stroke-width="0.9"/>
<rect x="107.00" y="281.90" width="10.90" height="9.90" fill="#000"/>
<rect x="132.00" y="270.50" width="10.70" height="1.50" fill="#fff"/>
<rect x="132.00" y="272.00" width="10.70" height="17.80" fill="url(#dots)"/>
<rect x="132.00" y="289.80" width="10.70" height="3.50" fill="#000"/>
<rect x="132.00" y="293.30" width="10.70" height="64.30" fill="#c4c4c4"/>
<rect x="132.45" y="270.95" width="9.80" height="86.65" fill="none" stroke="#666" stroke-width="0.9"/>
<rect x="132.00" y="289.80" width="10.70" height="3.50" fill="#000"/>
<rect x="27.40" y="266.60" width="75.20" height="25.60" fill="#fff" stroke="#666" stroke-width="0.9"/>
<rect x="29.80" y="268.30" width="3.60" height="3.60" fill="#fff" stroke="#222" stroke-width="0.7"/>
<text x="35.0" y="272.6" font-size="6.5" font-weight="bold" fill="#000" stroke="#000" stroke-width="0.05" textLength="65.5" lengthAdjust="spacingAndGlyphs" letter-spacing="0.45">IgDLoCD38HiCD27Neg</text>
<rect x="29.80" y="274.70" width="3.60" height="3.60" fill="url(#dots)" stroke="#222" stroke-width="0.7"/>
<text x="35.0" y="279.0" font-size="6.5" font-weight="bold" fill="#000" stroke="#000" stroke-width="0.05" textLength="65.5" lengthAdjust="spacingAndGlyphs" letter-spacing="0.45">IgDLoCD38LoCD27Neg</text>
<rect x="29.80" y="280.50" width="3.60" height="3.60" fill="#000" stroke="#222" stroke-width="0.7"/>
<text x="35.0" y="284.8" font-size="6.5" font-weight="bold" fill="#000" stroke="#000" stroke-width="0.05" textLength="34.8" lengthAdjust="spacingAndGlyphs" letter-spacing="0.45">Transitional</text>
<rect x="29.80" y="286.60" width="3.60" height="3.60" fill="#e4e4e4" stroke="#222" stroke-width="0.7"/>
<text x="35.0" y="290.9" font-size="6.5" font-weight="bold" fill="#000" stroke="#000" stroke-width="0.05" textLength="16.2" lengthAdjust="spacingAndGlyphs" letter-spacing="0.45">Naive</text>
<text x="180.0" y="252.6" font-size="11.5" font-weight="bold" fill="#000">G</text>
<text x="231.2" y="256.9" font-size="8.2" font-weight="bold" fill="#000" stroke="#000" stroke-width="0.25" textLength="55.800000000000004" lengthAdjust="spacingAndGlyphs" letter-spacing="0.9">Develop cGVHD</text>
<line x1="202.40" y1="260.10" x2="202.40" y2="358.40" stroke="#555" stroke-width="1.1"/>
<line x1="201.10" y1="357.90" x2="202.40" y2="357.90" stroke="#555" stroke-width="1.0"/>
<text x="201.5" y="360.29999999999995" font-size="6.9" font-weight="normal" fill="#111" stroke="#111" stroke-width="0.35" text-anchor="end" textLength="3.4" lengthAdjust="spacingAndGlyphs">0</text>
<line x1="201.10" y1="344.00" x2="202.40" y2="344.00" stroke="#555" stroke-width="1.0"/>
<text x="201.5" y="346.4" font-size="6.9" font-weight="normal" fill="#111" stroke="#111" stroke-width="0.35" text-anchor="end" textLength="6.9" lengthAdjust="spacingAndGlyphs">20</text>
<line x1="201.10" y1="330.10" x2="202.40" y2="330.10" stroke="#555" stroke-width="1.0"/>
<text x="201.5" y="332.49999999999994" font-size="6.9" font-weight="normal" fill="#111" stroke="#111" stroke-width="0.35" text-anchor="end" textLength="6.9" lengthAdjust="spacingAndGlyphs">40</text>
<line x1="201.10" y1="316.20" x2="202.40" y2="316.20" stroke="#555" stroke-width="1.0"/>
<text x="201.5" y="318.59999999999997" font-size="6.9" font-weight="normal" fill="#111" stroke="#111" stroke-width="0.35" text-anchor="end" textLength="6.9" lengthAdjust="spacingAndGlyphs">60</text>
<line x1="201.10" y1="302.30" x2="202.40" y2="302.30" stroke="#555" stroke-width="1.0"/>
<text x="201.5" y="304.7" font-size="6.9" font-weight="normal" fill="#111" stroke="#111" stroke-width="0.35" text-anchor="end" textLength="6.9" lengthAdjust="spacingAndGlyphs">80</text>
<line x1="201.10" y1="288.40" x2="202.40" y2="288.40" stroke="#555" stroke-width="1.0"/>
<text x="201.5" y="290.79999999999995" font-size="6.9" font-weight="normal" fill="#111" stroke="#111" stroke-width="0.35" text-anchor="end" textLength="10.2" lengthAdjust="spacingAndGlyphs">100</text>
<line x1="201.10" y1="274.50" x2="202.40" y2="274.50" stroke="#555" stroke-width="1.0"/>
<text x="201.5" y="276.9" font-size="6.9" font-weight="normal" fill="#111" stroke="#111" stroke-width="0.35" text-anchor="end" textLength="10.2" lengthAdjust="spacingAndGlyphs">120</text>
<line x1="201.10" y1="260.60" x2="202.40" y2="260.60" stroke="#555" stroke-width="1.0"/>
<text x="201.5" y="263.0" font-size="6.9" font-weight="normal" fill="#111" stroke="#111" stroke-width="0.35" text-anchor="end" textLength="10.2" lengthAdjust="spacingAndGlyphs">140</text>
<line x1="201.90" y1="357.90" x2="327.30" y2="357.90" stroke="#555" stroke-width="1.1"/>
<line x1="227.50" y1="357.90" x2="227.50" y2="359.90" stroke="#555" stroke-width="0.9"/>
<line x1="252.50" y1="357.90" x2="252.50" y2="359.90" stroke="#555" stroke-width="0.9"/>
<line x1="277.30" y1="357.90" x2="277.30" y2="359.90" stroke="#555" stroke-width="0.9"/>
<line x1="301.90" y1="357.90" x2="301.90" y2="359.90" stroke="#555" stroke-width="0.9"/>
<line x1="327.00" y1="357.90" x2="327.00" y2="359.90" stroke="#555" stroke-width="0.9"/>
<text x="216.3" y="364.6" font-size="5.9" font-weight="bold" fill="#000" stroke="#000" stroke-width="0.25" text-anchor="middle" textLength="3.3" lengthAdjust="spacingAndGlyphs">1</text>
<text x="238.5" y="364.6" font-size="5.9" font-weight="bold" fill="#000" stroke="#000" stroke-width="0.25" text-anchor="middle" textLength="3.3" lengthAdjust="spacingAndGlyphs">3</text>
<text x="263.6" y="364.6" font-size="5.9" font-weight="bold" fill="#000" stroke="#000" stroke-width="0.25" text-anchor="middle" textLength="3.3" lengthAdjust="spacingAndGlyphs">6</text>
<text x="288.1" y="364.6" font-size="5.9" font-weight="bold" fill="#000" stroke="#000" stroke-width="0.25" text-anchor="middle" textLength="3.3" lengthAdjust="spacingAndGlyphs">9</text>
<text x="311.2" y="364.6" font-size="5.9" font-weight="bold" fill="#000" stroke="#000" stroke-width="0.25" text-anchor="middle" textLength="6.5" lengthAdjust="spacingAndGlyphs">12</text>
<text transform="translate(187.2,306.9) rotate(-90)" font-size="7.3" font-weight="bold" fill="#000" stroke="#000" stroke-width="0.1" text-anchor="middle" textLength="93.8" lengthAdjust="spacingAndGlyphs" letter-spacing="0.45">Absolute Cell Number (x10<tspan font-size="4.6" dy="-2.4">6</tspan><tspan dy="2.4">/L)</tspan></text>
<text x="231.9" y="372.2" font-size="7.9" font-weight="bold" fill="#000" stroke="#000" stroke-width="0.25" textLength="64.3" lengthAdjust="spacingAndGlyphs" letter-spacing="0.5">Month After HSCT</text>
<text x="211.0" y="380.8" font-size="8.0" font-weight="bold" fill="#000" stroke="#000" stroke-width="0.1" textLength="12.8" lengthAdjust="spacingAndGlyphs" letter-spacing="0.4">n=9</text>
<text x="231.9" y="380.8" font-size="8.0" font-weight="bold" fill="#000" stroke="#000" stroke-width="0.1" textLength="15.9" lengthAdjust="spacingAndGlyphs" letter-spacing="0.4">n=12</text>
<text x="258.1" y="380.7" font-size="8.0" font-weight="bold" fill="#000" stroke="#000" stroke-width="0.1" textLength="16.400000000000002" lengthAdjust="spacingAndGlyphs" letter-spacing="0.4">n=16</text>
<text x="282.7" y="380.7" font-size="8.0" font-weight="bold" fill="#000" stroke="#000" stroke-width="0.1" textLength="16.400000000000002" lengthAdjust="spacingAndGlyphs" letter-spacing="0.4">n=17</text>
<text x="307.3" y="380.7" font-size="8.0" font-weight="bold" fill="#000" stroke="#000" stroke-width="0.1" textLength="16.0" lengthAdjust="spacingAndGlyphs" letter-spacing="0.4">n=16</text>
<rect x="210.10" y="355.10" width="10.80" height="1.60" fill="#000"/>
<rect x="210.10" y="356.70" width="10.80" height="1.20" fill="#c4c4c4"/>
<rect x="210.55" y="355.55" width="9.90" height="2.35" fill="none" stroke="#666" stroke-width="0.9"/>
<rect x="210.10" y="355.10" width="10.80" height="1.60" fill="#000"/>
<rect x="234.60" y="352.40" width="11.00" height="1.60" fill="#000"/>
<rect x="234.60" y="354.00" width="11.00" height="3.90" fill="#c4c4c4"/>
<rect x="235.05" y="352.85" width="10.10" height="5.05" fill="none" stroke="#666" stroke-width="0.9"/>
<rect x="234.60" y="352.40" width="11.00" height="1.60" fill="#000"/>
<rect x="260.20" y="347.80" width="10.50" height="0.80" fill="#c4c4c4"/>
<rect x="260.20" y="348.60" width="10.50" height="2.00" fill="url(#dotsdk)"/>
<rect x="260.20" y="350.60" width="10.50" height="7.30" fill="#c4c4c4"/>
<rect x="260.65" y="348.25" width="9.60" height="9.65" fill="none" stroke="#666" stroke-width="0.9"/>
<rect x="284.60" y="331.90" width="10.30" height="1.10" fill="#000"/>
<rect x="284.60" y="333.00" width="10.30" height="1.00" fill="#fff"/>
<rect x="284.60" y="334.00" width="10.30" height="1.80" fill="url(#dotsdk)"/>
<rect x="284.60" y="335.80" width="10.30" height="22.10" fill="#c4c4c4"/>
<rect x="285.05" y="332.35" width="9.40" height="25.55" fill="none" stroke="#666" stroke-width="0.9"/>
<rect x="284.60" y="331.90" width="10.30" height="1.10" fill="#000"/>
<rect x="309.80" y="320.00" width="10.30" height="1.20" fill="#000"/>
<rect x="309.80" y="321.20" width="10.30" height="2.60" fill="url(#dots)"/>
<rect x="309.80" y="323.80" width="10.30" height="1.90" fill="url(#dotsdk)"/>
<rect x="309.80" y="325.70" width="10.30" height="32.20" fill="#c4c4c4"/>
<rect x="310.25" y="320.45" width="9.40" height="37.45" fill="none" stroke="#666" stroke-width="0.9"/>
<rect x="309.80" y="320.00" width="10.30" height="1.20" fill="#000"/>
<rect x="205.30" y="266.10" width="75.00" height="26.80" fill="#fff" stroke="#666" stroke-width="0.9"/>
<rect x="207.70" y="268.10" width="3.60" height="3.60" fill="#fff" stroke="#222" stroke-width="0.7"/>
<text x="212.9" y="272.4" font-size="6.5" font-weight="bold" fill="#000" stroke="#000" stroke-width="0.05" textLength="65.8" lengthAdjust="spacingAndGlyphs" letter-spacing="0.45">IgDLoCD38HiCD27Neg</text>
<rect x="207.70" y="274.50" width="3.60" height="3.60" fill="url(#dots)" stroke="#222" stroke-width="0.7"/>
<text x="212.9" y="278.8" font-size="6.5" font-weight="bold" fill="#000" stroke="#000" stroke-width="0.05" textLength="66.3" lengthAdjust="spacingAndGlyphs" letter-spacing="0.45">IgDLoCD38LoCD27Neg</text>
<rect x="207.70" y="280.50" width="3.60" height="3.60" fill="#000" stroke="#222" stroke-width="0.7"/>
<text x="212.9" y="284.8" font-size="6.5" font-weight="bold" fill="#000" stroke="#000" stroke-width="0.05" textLength="34.5" lengthAdjust="spacingAndGlyphs" letter-spacing="0.45">Transitional</text>
<rect x="207.70" y="286.60" width="3.60" height="3.60" fill="#e4e4e4" stroke="#222" stroke-width="0.7"/>
<text x="212.9" y="290.9" font-size="6.5" font-weight="bold" fill="#000" stroke="#000" stroke-width="0.05" textLength="16.2" lengthAdjust="spacingAndGlyphs" letter-spacing="0.45">Naive</text>
</svg></body></html>
